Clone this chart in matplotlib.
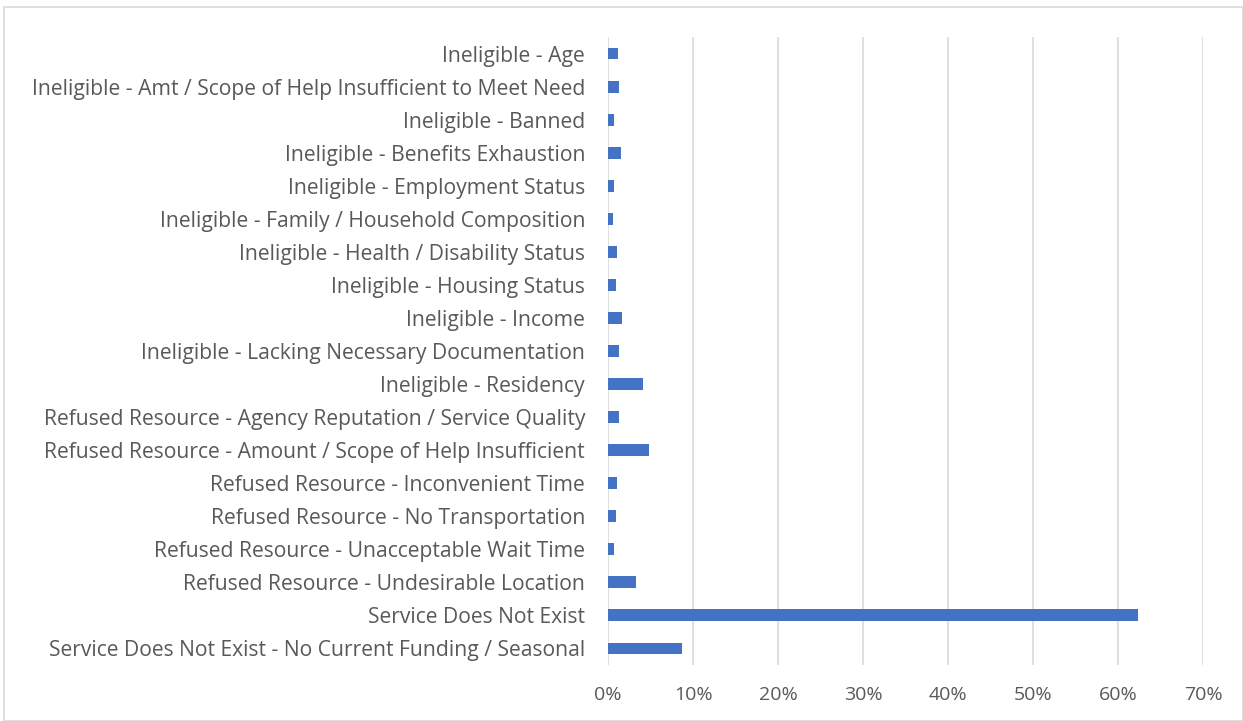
import matplotlib
matplotlib.use("Agg")
import matplotlib.pyplot as plt
from matplotlib.patches import Rectangle
from matplotlib.ticker import PercentFormatter

categories = [
    "Ineligible - Age",
    "Ineligible - Amt / Scope of Help Insufficient to Meet Need",
    "Ineligible - Banned",
    "Ineligible - Benefits Exhaustion",
    "Ineligible - Employment Status",
    "Ineligible - Family / Household Composition",
    "Ineligible - Health / Disability Status",
    "Ineligible - Housing Status",
    "Ineligible - Income",
    "Ineligible - Lacking Necessary Documentation",
    "Ineligible - Residency",
    "Refused Resource - Agency Reputation / Service Quality",
    "Refused Resource - Amount / Scope of Help Insufficient",
    "Refused Resource - Inconvenient Time",
    "Refused Resource - No Transportation",
    "Refused Resource - Unacceptable Wait Time",
    "Refused Resource - Undesirable Location",
    "Service Does Not Exist",
    "Service Does Not Exist - No Current Funding / Seasonal",
]
shares = [1.2, 1.3, 0.67, 1.5, 0.75, 0.6, 1.1, 0.9, 1.7, 1.3,
          4.07, 1.34, 4.86, 1.03, 0.99, 0.67, 3.3, 62.3, 8.7]
xticks = [0, 10, 20, 30, 40, 50, 60, 70]

plt.rcParams["font.family"] = ["Open Sans", "DejaVu Sans"]
text_grey = "#595959"

fig = plt.figure(figsize=(12.43, 7.21), dpi=100)
fig.patches.append(Rectangle((4 / 1243, 0), 1 - 4 / 1243, 1 - 7 / 721,
                             transform=fig.transFigure, fill=False,
                             edgecolor="#d9d9d9", linewidth=1.2))
ax = fig.add_axes([608 / 1243, 1 - 665 / 721, (1203 - 608) / 1243, (665 - 37) / 721])

pos = list(range(len(categories)))
ax.barh(pos, shares, height=0.36, color="#4472C4", zorder=3)
ax.set_ylim(len(categories) - 0.5, -0.5)
ax.set_xlim(0, 70)
ax.set_yticks(pos)
ax.set_yticklabels(categories, fontsize=15.2, color=text_grey)
ax.set_xticks(xticks)
ax.xaxis.set_major_formatter(PercentFormatter(decimals=0))
ax.tick_params(axis="x", labelsize=14, colors=text_grey, length=0, pad=15)
ax.tick_params(axis="y", length=0, pad=16.5)
ax.grid(axis="x", color="#d9d9d9", linewidth=1.2, zorder=0)
for s in ax.spines.values():
    s.set_visible(False)

fig.savefig("out.png", dpi=100)
